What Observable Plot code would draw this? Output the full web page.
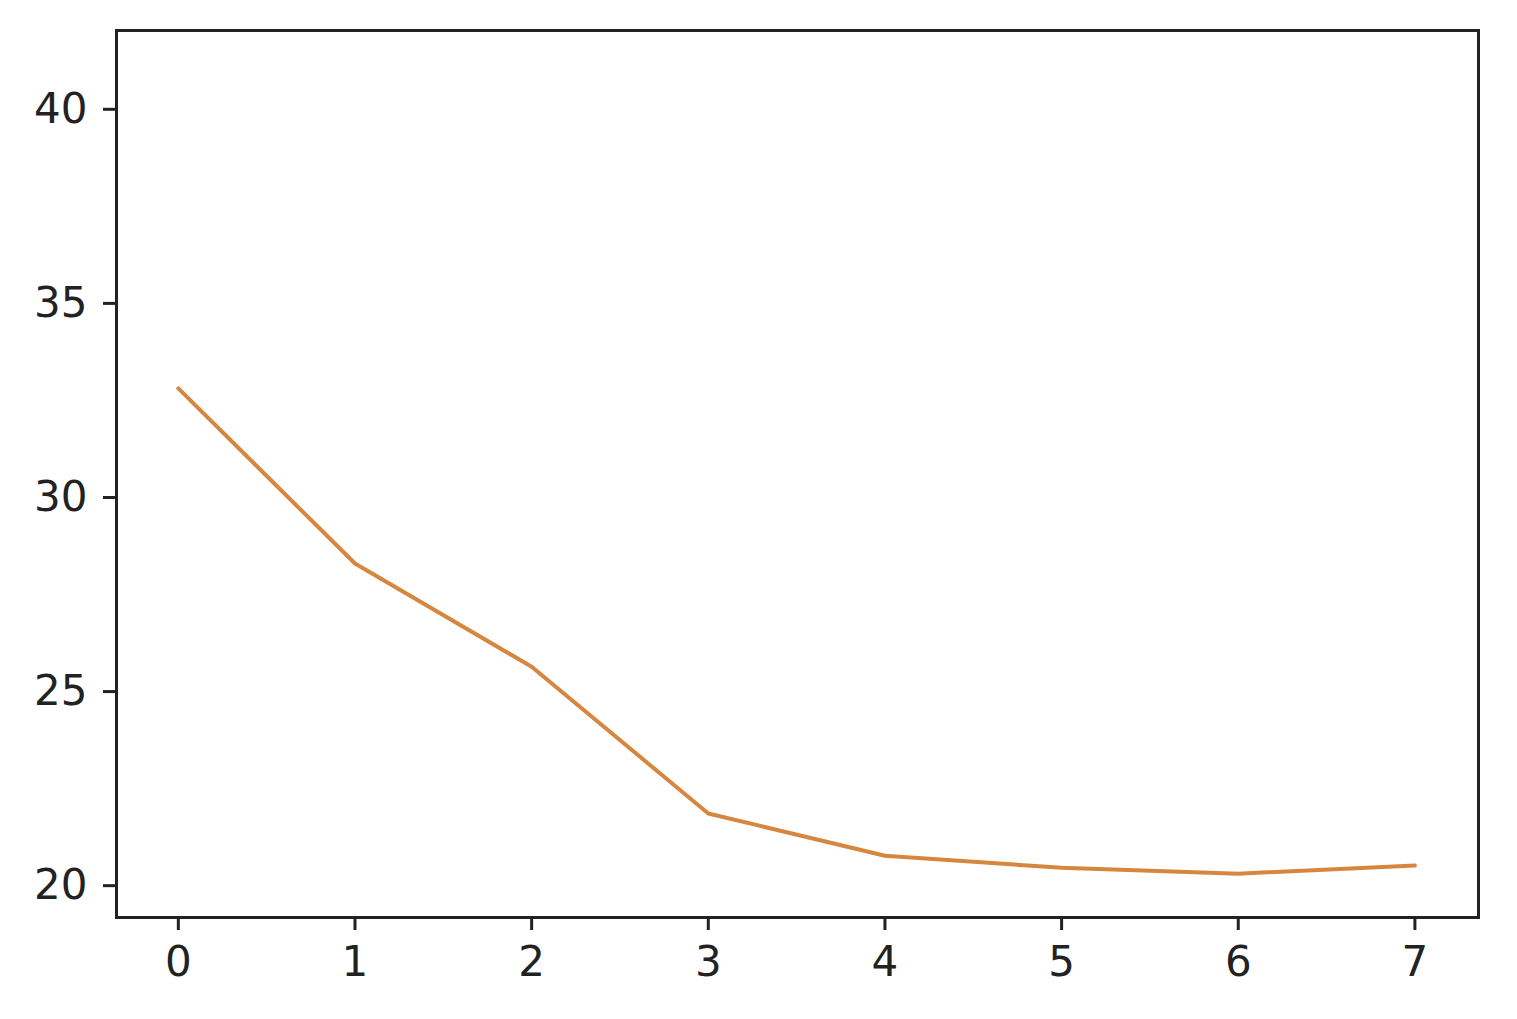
<!DOCTYPE html>
<html>
<head>
<meta charset="utf-8">
<script src="https://cdn.jsdelivr.net/npm/d3@7"></script>
<script src="https://cdn.jsdelivr.net/npm/@observablehq/plot@0.6"></script>
<style>
  html, body { margin: 0; padding: 0; background: #fff; }
  #chart svg { display: block; }
</style>
</head>
<body>
<div id="chart"></div>
<script>
const epochs = [0, 1, 2, 3, 4, 5, 6, 7];
const values = [32.81, 28.30, 25.64, 21.86, 20.77, 20.46, 20.31, 20.52];
const xTicks = [0, 1, 2, 3, 4, 5, 6, 7];
const yTicks = [20, 25, 30, 35, 40];

const data = epochs.map((e, i) => ({x: e, y: values[i]}));

const chart = Plot.plot({
  width: 1517,
  height: 1019,
  marginLeft: 116,
  marginRight: 39,
  marginTop: 30,
  marginBottom: 102,
  style: {background: "#fff", fontFamily: "DejaVu Sans", fontSize: "42px", color: "#222"},
  x: {domain: [-0.35, 7.36], label: null},
  y: {domain: [19.18, 42.03], label: null},
  marks: [
    Plot.axisX({ticks: xTicks, tickSize: 13, tickPadding: 16, strokeWidth: 3, stroke: "#222", label: null, tickFormat: d3.format("d")}),
    Plot.axisY({ticks: yTicks, tickSize: 13, tickPadding: 16, strokeWidth: 3, stroke: "#222", label: null, tickFormat: d3.format("d")}),
    Plot.line(data, {x: "x", y: "y", stroke: "#d7863f", strokeWidth: 4}),
    Plot.frame({stroke: "#222", strokeWidth: 3})
  ]
});
document.getElementById("chart").appendChild(chart);
</script>
</body>
</html>
